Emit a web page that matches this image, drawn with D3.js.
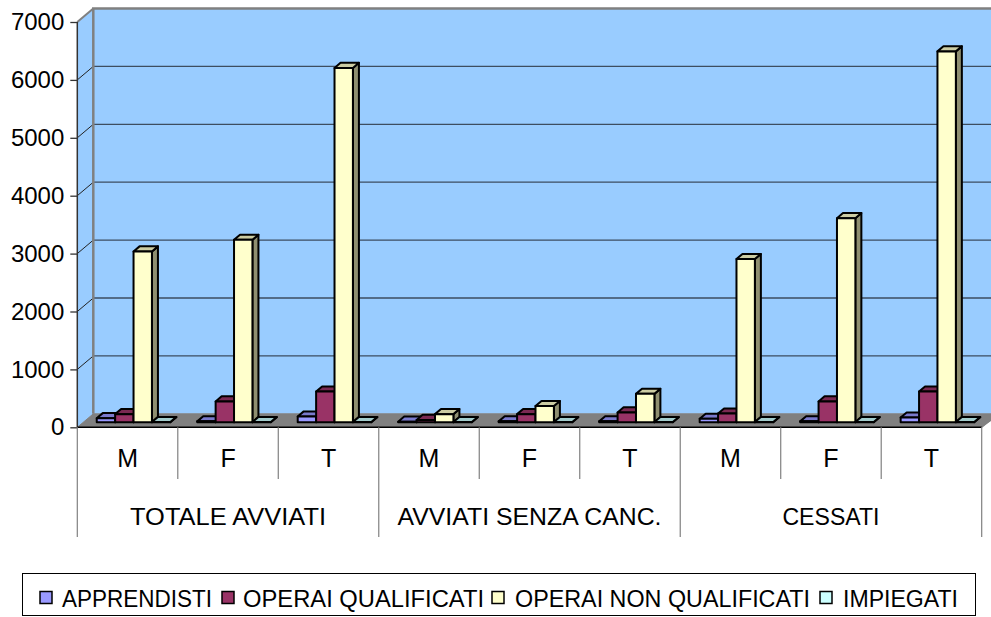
<!DOCTYPE html>
<html><head><meta charset="utf-8">
<script src="https://cdn.jsdelivr.net/npm/d3@7"></script>
<style>
html,body{margin:0;padding:0;background:#fff;}
svg{display:block;font-family:"Liberation Sans",Arial,sans-serif;}
</style></head>
<body>
<svg id="chart" width="991" height="617"></svg>
<script>
// ---- data ----
const categories = ["M","F","T","M","F","T","M","F","T"];
const groups = ["TOTALE AVVIATI","AVVIATI SENZA CANC.","CESSATI"];
const seriesNames = ["APPRENDISTI","OPERAI QUALIFICATI","OPERAI NON QUALIFICATI","IMPIEGATI"];
const apprendisti = [70, 15, 100, 10, 15, 15, 60, 15, 80];
const operaiQualificati = [140, 360, 530, 40, 140, 170, 150, 360, 530];
const operaiNonQualificati = [2950, 3150, 6120, 140, 280, 490, 2820, 3525, 6405];
const impiegati = [5, 5, 5, 3, 3, 3, 5, 5, 5];
const yTicks = [0,1000,2000,3000,4000,5000,6000,7000];

const seriesValues = [apprendisti, operaiQualificati, operaiNonQualificati, impiegati];
const frontCol = ["#9999FF","#993366","#FFFFCC","#CCFFFF"];
const topCol   = ["#7A7ACC","#7A2952","#CCCCA3","#A3CCCC"];
const sideCol  = ["#5C5C99","#5C1F3D","#8F8F70","#7A9999"];

// ---- geometry ----
const svg = d3.select("#chart");
const x0 = 77.3, x1 = 981.7, yBase = 427.3, yTop = 22;
const DX = 16, DY = -13.5;           // depth of the plot box
const t0 = 0.375, t1 = 0.75;          // bar depth position (front, back)

const y = d3.scaleLinear().domain([0,7000]).range([yBase, yTop]);
const xCat = d3.scaleBand().domain(d3.range(categories.length)).range([x0, x1]);
const cw = xCat.bandwidth();
const barW = 18.4;
const xSer = d3.scaleBand().domain(seriesNames).range([(cw - barW*4)/2, (cw + barW*4)/2]);

const g = svg.append("g");

// back wall
g.append("rect").attr("x", x0+DX).attr("y", y(7000)+DY)
  .attr("width", 1100).attr("height", y(0)-y(7000))
  .attr("fill","#99CCFF");
// side wall
g.append("path")
  .attr("d", `M${x0},${y(7000)} L${x0+DX},${y(7000)+DY} L${x0+DX},${y(0)+DY} L${x0},${y(0)} Z`)
  .attr("fill","#99CCFF");

// gridlines (back wall + side wall diagonals)
yTicks.filter(v => v>0 && v<7000).forEach(v => {
  g.append("line").attr("x1", x0+DX).attr("x2", 1000).attr("y1", y(v)+DY).attr("y2", y(v)+DY)
    .attr("stroke","#3d4d60").attr("stroke-width",1.3);
  g.append("line").attr("x1", x0).attr("x2", x0+DX).attr("y1", y(v)).attr("y2", y(v)+DY)
    .attr("stroke","#222").attr("stroke-width",1);
});

// floor
g.append("path")
  .attr("d", `M${x0},${yBase} L${x0+DX},${yBase+DY} L${x1+DX+20},${yBase+DY} L${x1+20},${yBase+DY} L${x1},${yBase} Z`)
  .attr("fill","#808080");
g.append("path")
  .attr("d", `M${x0},${yBase} L${x0+DX},${yBase+DY} L${x1+DX+30},${yBase+DY}`)
  .attr("fill","none").attr("stroke","#808080").attr("stroke-width",1);
g.append("path")
  .attr("d", `M${x1},${yBase} L${x1+DX},${yBase+DY}`)
  .attr("fill","none").attr("stroke","#808080").attr("stroke-width",1.5);

// wall borders
g.append("path")
  .attr("d", `M${x0+DX},${yBase+DY} L${x0+DX},${y(7000)+DY} L1000,${y(7000)+DY}`)
  .attr("fill","none").attr("stroke","#808080").attr("stroke-width",2.5);
g.append("path")
  .attr("d", `M${x0},${y(7000)} L${x0+DX},${y(7000)+DY}`)
  .attr("fill","none").attr("stroke","#808080").attr("stroke-width",2);

// bars
const fx = DX*t0, fy = DY*t0, bx = DX*(t1-t0), by = DY*(t1-t0);
categories.forEach((c, i) => {
  seriesNames.forEach((s, k) => {
    const v = seriesValues[k][i];
    const xl = xCat(i) + xSer(s) + fx;
    const xr = xl + barW;
    const yb = y(0) + fy;
    const yt = y(v) + fy;
    const bg = g.append("g").attr("stroke","#000").attr("stroke-width",2).attr("stroke-linejoin","round");
    bg.append("path").attr("d", `M${xr},${yb} L${xr+bx},${yb+by} L${xr+bx},${yt+by} L${xr},${yt} Z`).attr("fill", sideCol[k]);
    bg.append("path").attr("d", `M${xl},${yt} L${xl+bx},${yt+by} L${xr+bx},${yt+by} L${xr},${yt} Z`).attr("fill", topCol[k]);
    bg.append("path").attr("d", `M${xl},${yb} L${xl},${yt} L${xr},${yt} L${xr},${yb} Z`).attr("fill", frontCol[k]);
  });
});

// axes lines
g.append("line").attr("x1", x0).attr("x2", x0).attr("y1", y(7000)).attr("y2", yBase)
  .attr("stroke","#333").attr("stroke-width",1.5);
g.append("line").attr("x1", x0).attr("x2", x1).attr("y1", yBase).attr("y2", yBase)
  .attr("stroke","#000").attr("stroke-width",1.5);

// y axis ticks + labels
const yAxis = d3.axisLeft(y).tickValues(yTicks).tickSize(7).tickPadding(6).tickFormat(d3.format("d"));
const ya = svg.append("g").attr("transform", `translate(${x0},0)`).call(yAxis);
ya.select(".domain").remove();
ya.selectAll(".tick line").attr("stroke","#333").attr("stroke-width",1.3);
ya.selectAll(".tick text").attr("font-size", 24).attr("fill","#000")
  .attr("font-family","'Liberation Sans',Arial,sans-serif");

// category axis (two levels)
const ca = svg.append("g");
d3.range(categories.length + 1).forEach(i => {
  const xx = i < categories.length ? xCat(i) : x1;
  const full = i % 3 === 0;
  ca.append("line").attr("x1", xx).attr("x2", xx).attr("y1", yBase).attr("y2", full ? 537 : 479)
    .attr("stroke","#808080").attr("stroke-width",1.2);
});
categories.forEach((c, i) => {
  ca.append("text").attr("x", xCat(i) + cw/2).attr("y", 466.5).attr("text-anchor","middle")
    .attr("font-size", 25).text(c);
});
const groupTextW = [196, 264, 97];
groups.forEach((gname, j) => {
  const xa = xCat(j*3), xb = j*3+3 < categories.length ? xCat(j*3+3) : x1;
  ca.append("text").attr("x", (xa+xb)/2).attr("y", 524.5).attr("text-anchor","middle")
    .attr("font-size", 24).attr("textLength", groupTextW[j]).attr("lengthAdjust","spacingAndGlyphs")
    .text(gname);
});

// legend
const lg = svg.append("g");
lg.append("rect").attr("x", 22.5).attr("y", 573.5).attr("width", 953).attr("height", 42)
  .attr("fill","#fff").attr("stroke","#000").attr("stroke-width",1);
const legX = [40, 222, 492, 820];
const legTextX = [62, 243, 515, 843];
const legTextW = [150, 241, 295, 115];
seriesNames.forEach((s, k) => {
  lg.append("rect").attr("x", legX[k]).attr("y", 591.5).attr("width", 12).attr("height", 12)
    .attr("fill", frontCol[k]).attr("stroke","#000").attr("stroke-width",1.5);
  lg.append("text").attr("x", legTextX[k]).attr("y", 606.5).attr("font-size", 23)
    .attr("textLength", legTextW[k]).attr("lengthAdjust","spacingAndGlyphs").text(s);
});
</script>
</body></html>
